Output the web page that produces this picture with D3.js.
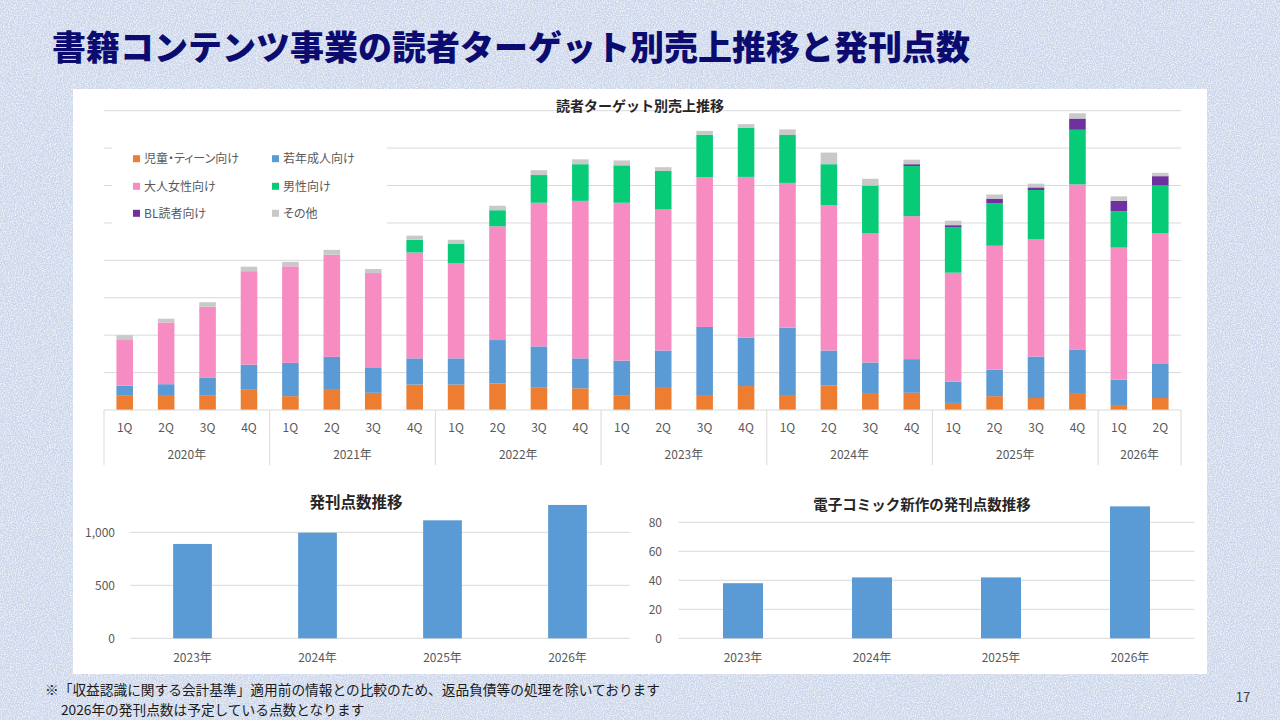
<!DOCTYPE html>
<html>
<head>
<meta charset="utf-8">
<script src="https://cdn.jsdelivr.net/npm/d3@7"></script>
<style>
    html, body { margin: 0; padding: 0; background: #d2dbee; }
    svg { display: block; font-family: "Noto Sans CJK JP", "Noto Sans", sans-serif; }
</style>
</head>
<body>
<script>
//************************************************************************************************************
// Data (stacked values are in gridline units, the axis has no labels)
//************************************************************************************************************
var years = ["2020年", "2021年", "2022年", "2023年", "2024年", "2025年", "2026年"];
var quartersPerYear = [4, 4, 4, 4, 4, 4, 2];
var quarterNames = ["1Q", "2Q", "3Q", "4Q"];

var seriesNames = ["児童・ティーン向け", "若年成人向け", "大人女性向け", "男性向け", "BL読者向け", "その他"];

var childTeen = [0.38, 0.40, 0.38, 0.54, 0.37, 0.56, 0.46, 0.68, 0.68, 0.71, 0.61, 0.58, 0.38,
                 0.59, 0.40, 0.64, 0.40, 0.65, 0.43, 0.46, 0.19, 0.37, 0.32, 0.43, 0.11, 0.32];
var youngAdult = [0.27, 0.29, 0.49, 0.67, 0.89, 0.86, 0.68, 0.70, 0.70, 1.16, 1.09, 0.80, 0.94,
                  1.00, 1.82, 1.29, 1.80, 0.94, 0.84, 0.90, 0.57, 0.71, 1.11, 1.19, 0.70, 0.91];
var adultWomen = [1.22, 1.65, 1.89, 2.50, 2.58, 2.73, 2.52, 2.83, 2.55, 3.04, 3.84, 4.21, 4.22,
                  3.77, 4.00, 4.30, 3.87, 3.88, 3.45, 3.82, 2.91, 3.31, 3.13, 4.41, 3.53, 3.50];
var men = [0, 0, 0, 0, 0, 0, 0, 0.34, 0.52, 0.43, 0.74, 0.98, 1.00,
           1.03, 1.14, 1.31, 1.28, 1.10, 1.28, 1.34, 1.21, 1.14, 1.32, 1.46, 0.97, 1.27];
var blReaders = [0, 0, 0, 0, 0, 0, 0, 0, 0, 0, 0, 0, 0,
                 0, 0, 0, 0, 0, 0, 0.05, 0.06, 0.12, 0.07, 0.30, 0.28, 0.25];
var others = [0.13, 0.10, 0.12, 0.12, 0.12, 0.13, 0.11, 0.11, 0.10, 0.12, 0.13, 0.13, 0.13,
              0.10, 0.10, 0.10, 0.15, 0.31, 0.18, 0.12, 0.12, 0.11, 0.10, 0.14, 0.12, 0.09];

var countYears = ["2023年", "2024年", "2025年", "2026年"];
var titleCounts = [890, 996, 1113, 1258];
var eComicCounts = [38, 42, 42, 91];

//************************************************************************************************************
// Styles
//************************************************************************************************************
var seriesColors = ["#ED7D31", "#5B9BD5", "#F68CC1", "#08CB78", "#7030A0", "#C9C9C9"];
var gridColor = "#d9d9d9";
var labelColor = "#595959";
var barBlue = "#5B9BD5";

var svg = d3.select("body").append("svg")
    .attr("width", 1280)
    .attr("height", 720);

// textured slide background
var defs = svg.append("defs");
var noise = defs.append("filter").attr("id", "paper")
    .attr("x", 0).attr("y", 0).attr("width", "100%").attr("height", "100%");
noise.append("feTurbulence")
    .attr("type", "fractalNoise")
    .attr("baseFrequency", 0.85)
    .attr("numOctaves", 2)
    .attr("seed", 3);
noise.append("feColorMatrix")
    .attr("type", "matrix")
    .attr("values", "0 0 0 0 1  0 0 0 0 1  0 0 0 0 1  2.2 0 0 0 -0.8");

svg.append("rect").attr("width", 1280).attr("height", 720).attr("fill", "#cbd5ea");
svg.append("rect").attr("width", 1280).attr("height", 720)
    .attr("filter", "url(#paper)").attr("opacity", 0.8);

// slide title
svg.append("text")
    .attr("x", 52).attr("y", 60)
    .attr("font-size", 34).attr("font-weight", 900)
    .attr("fill", "#0c0c70")
    .text("書籍コンテンツ事業の読者ターゲット別売上推移と発刊点数");

// white panel behind the three charts
svg.append("rect")
    .attr("x", 73).attr("y", 89)
    .attr("width", 1134).attr("height", 585)
    .attr("fill", "#ffffff");

//************************************************************************************************************
// Stacked chart: 読者ターゲット別売上推移
//************************************************************************************************************
var periods = [];
years.forEach(function(yr, i) {
    for(var q = 0; q < quartersPerYear[i]; q++) {
        periods.push({ key: yr + quarterNames[q], year: yr, quarter: quarterNames[q] });
    }
});

var seriesArrays = [childTeen, youngAdult, adultWomen, men, blReaders, others];
var rows = periods.map(function(p, i) {
    var row = { key: p.key };
    seriesNames.forEach(function(name, s) { row[name] = seriesArrays[s][i]; });
    return row;
});

var x = d3.scaleBand()
    .domain(periods.map(function(p) { return p.key; }))
    .range([104, 1181])
    .paddingInner(0.6)
    .paddingOuter(0.3);
var y = d3.scaleLinear().domain([0, 8]).range([410, 110.7]);

var main = svg.append("g");

main.selectAll(".grid")
    .data(y.ticks(8).filter(function(t) { return t > 0; }))
    .enter().append("line")
    .attr("class", "grid")
    .attr("x1", 104).attr("x2", 1181)
    .attr("y1", function(d) { return y(d); })
    .attr("y2", function(d) { return y(d); })
    .attr("stroke", gridColor).attr("stroke-width", 1);

var stacked = d3.stack().keys(seriesNames)(rows);

main.selectAll(".series")
    .data(stacked)
    .enter().append("g")
    .attr("class", "series")
    .attr("fill", function(d, i) { return seriesColors[i]; })
    .selectAll("rect")
    .data(function(d) { return d.filter(function(v) { return v[1] - v[0] > 0; }); })
    .enter().append("rect")
    .attr("x", function(d) { return x(d.data.key); })
    .attr("width", x.bandwidth())
    .attr("y", function(d) { return y(d[1]); })
    .attr("height", function(d) { return y(d[0]) - y(d[1]); });

main.append("text")
    .attr("x", 640).attr("y", 111)
    .attr("text-anchor", "middle")
    .attr("font-size", 14).attr("font-weight", 700)
    .attr("fill", "#262626")
    .text("読者ターゲット別売上推移");

// legend sits on a white box that hides the gridlines behind it
var legend = main.append("g")
    .style("font-feature-settings", "'palt'");
legend.append("rect")
    .attr("x", 112).attr("y", 140)
    .attr("width", 275).attr("height", 86)
    .attr("fill", "#ffffff");
var legendItem = legend.selectAll(".legend-item")
    .data(seriesNames)
    .enter().append("g")
    .attr("class", "legend-item")
    .attr("transform", function(d, i) {
        return "translate(" + (i % 2 === 0 ? 133 : 272) + "," + [158.7, 186.3, 213.3][Math.floor(i / 2)] + ")";
    });
legendItem.append("rect")
    .attr("x", 0).attr("y", -3.5)
    .attr("width", 7).attr("height", 7)
    .attr("fill", function(d, i) { return seriesColors[i]; });
legendItem.append("text")
    .attr("x", 11).attr("y", 4.3)
    .attr("font-size", 12)
    .attr("fill", labelColor)
    .text(function(d) { return d; });

// two-level category axis
main.append("line")
    .attr("x1", 104).attr("x2", 1181)
    .attr("y1", 410).attr("y2", 410)
    .attr("stroke", gridColor);

main.selectAll(".q-label")
    .data(periods)
    .enter().append("text")
    .attr("class", "q-label")
    .attr("x", function(p) { return x(p.key) + x.bandwidth() / 2; })
    .attr("y", 432)
    .attr("text-anchor", "middle")
    .attr("font-size", 12)
    .attr("fill", labelColor)
    .text(function(p) { return p.quarter; });

var boundaries = [0];
quartersPerYear.forEach(function(n) { boundaries.push(boundaries[boundaries.length - 1] + n); });
var bx = function(idx) { return x.range()[0] + idx * x.step(); };

main.selectAll(".y-sep")
    .data(boundaries)
    .enter().append("line")
    .attr("class", "y-sep")
    .attr("x1", bx).attr("x2", bx)
    .attr("y1", 410).attr("y2", 465)
    .attr("stroke", gridColor);

main.selectAll(".y-label")
    .data(years)
    .enter().append("text")
    .attr("class", "y-label")
    .attr("x", function(d, i) { return (bx(boundaries[i]) + bx(boundaries[i + 1])) / 2; })
    .attr("y", 459)
    .attr("text-anchor", "middle")
    .attr("font-size", 12)
    .attr("fill", labelColor)
    .text(function(d) { return d; });

//************************************************************************************************************
// Simple column charts
//************************************************************************************************************
function drawColumns(opts) {
    var g = svg.append("g");
    var xs = d3.scaleBand().domain(countYears).range(opts.xRange).paddingInner(0.69).paddingOuter(0.345);
    var ys = d3.scaleLinear().domain([0, opts.refValue]).range([638.3, opts.refY]);

    g.selectAll(".grid")
        .data(opts.ticks)
        .enter().append("line")
        .attr("x1", opts.xRange[0]).attr("x2", opts.xRange[1])
        .attr("y1", function(d) { return ys(d); })
        .attr("y2", function(d) { return ys(d); })
        .attr("stroke", gridColor);

    g.selectAll(".tick-label")
        .data(opts.ticks)
        .enter().append("text")
        .attr("x", opts.labelX)
        .attr("y", function(d) { return ys(d) + 4.3; })
        .attr("text-anchor", "end")
        .attr("font-size", 12)
        .attr("fill", labelColor)
        .text(d3.format(","));

    g.selectAll(".bar")
        .data(opts.values)
        .enter().append("rect")
        .attr("x", function(d, i) { return xs(countYears[i]); })
        .attr("width", xs.bandwidth())
        .attr("y", function(d) { return ys(d); })
        .attr("height", function(d) { return ys(0) - ys(d); })
        .attr("fill", barBlue);

    g.selectAll(".cat-label")
        .data(countYears)
        .enter().append("text")
        .attr("x", function(d) { return xs(d) + xs.bandwidth() / 2; })
        .attr("y", 662)
        .attr("text-anchor", "middle")
        .attr("font-size", 12)
        .attr("fill", labelColor)
        .text(function(d) { return d; });

    g.append("text")
        .attr("x", opts.titleX).attr("y", opts.titleY)
        .attr("text-anchor", "middle")
        .attr("font-size", opts.titleSize).attr("font-weight", 700)
        .attr("fill", "#262626")
        .text(opts.title);
}

drawColumns({
    title: "発刊点数推移", titleX: 356, titleY: 507.5, titleSize: 15.5,
    values: titleCounts, ticks: [0, 500, 1000],
    refValue: 1000, refY: 532.3,
    xRange: [130, 630], labelX: 115
});

drawColumns({
    title: "電子コミック新作の発刊点数推移", titleX: 922, titleY: 510, titleSize: 14.5,
    values: eComicCounts, ticks: [0, 20, 40, 60, 80],
    refValue: 80, refY: 522.3,
    xRange: [678.5, 1194.5], labelX: 662
});

//************************************************************************************************************
// Footnotes and page number
//************************************************************************************************************
svg.append("text")
    .attr("x", 45).attr("y", 695)
    .attr("font-size", 13.7).attr("fill", "#1a1a1a")
    .text("※「収益認識に関する会計基準」適用前の情報との比較のため、返品負債等の処理を除いております");
svg.append("text")
    .attr("x", 61).attr("y", 715)
    .attr("font-size", 13.7).attr("fill", "#1a1a1a")
    .text("2026年の発刊点数は予定している点数となります");
svg.append("text")
    .attr("x", 1243).attr("y", 702)
    .attr("text-anchor", "middle")
    .attr("font-size", 13).attr("fill", "#404040")
    .text("17");
</script>
</body>
</html>
